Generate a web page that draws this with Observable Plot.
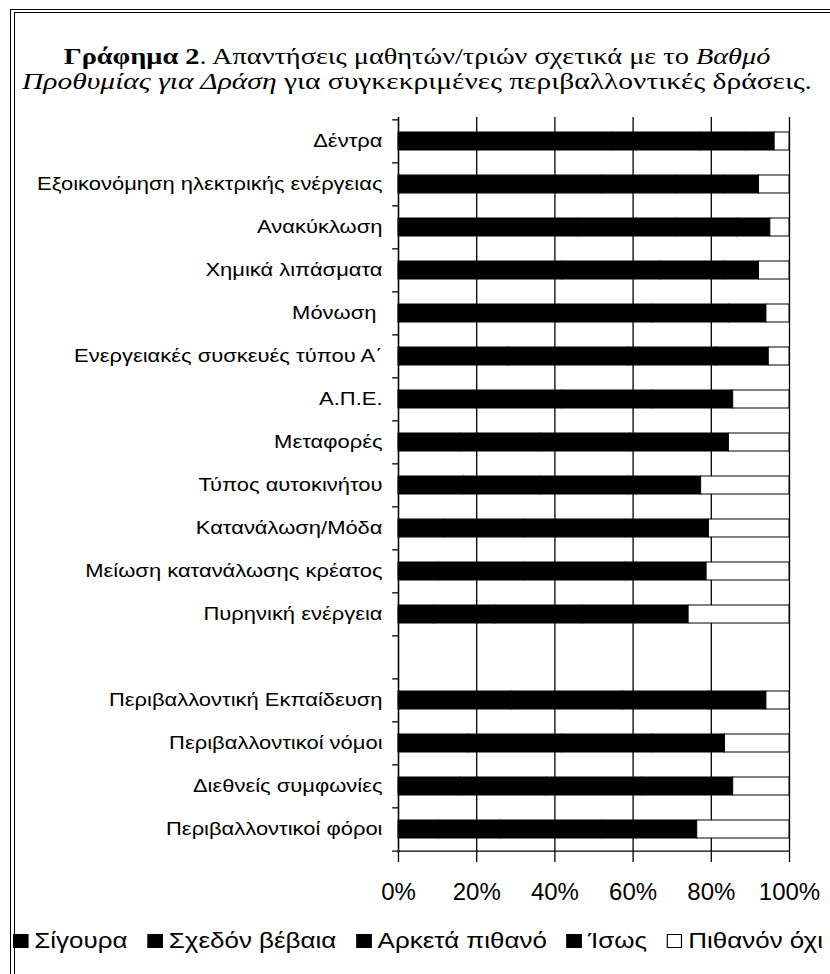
<!DOCTYPE html>
<html><head><meta charset="utf-8">
<script src="https://cdn.jsdelivr.net/npm/d3@7"></script>
<script src="https://cdn.jsdelivr.net/npm/@observablehq/plot@0.6"></script>
<style>
html,body{margin:0;padding:0;background:#fff;overflow:hidden;width:830px;height:974px;}
#frame1{position:absolute;left:10px;top:9px;width:1000px;height:1100px;border-left:1.5px solid #000;border-top:1.5px solid #000;}
#frame2{position:absolute;left:14px;top:12px;width:1000px;height:1100px;border-left:1px solid #000;border-top:1px solid #000;}
.tline{position:absolute;left:0;width:834px;text-align:center;font-family:"Liberation Serif","Times New Roman",serif;font-size:24px;line-height:25px;color:#000;white-space:nowrap;transform-origin:417px 0;}
#t1{top:44px;transform:scaleX(1.18);}
#t2{top:69px;transform:scaleX(1.23);}
#chart{position:absolute;left:0;top:100px;}
#legend{position:absolute;left:13px;top:928px;white-space:nowrap;font-family:"Liberation Sans",Arial,sans-serif;font-size:22px;line-height:26px;color:#000;transform:scaleX(1.18);transform-origin:0 0;}
#legend .item{display:inline-block;margin-right:17px;}
#legend .item:last-child{margin-right:0;}
#legend .sw{display:inline-block;width:11px;height:12px;margin-right:5px;border:1px solid #000;vertical-align:0px;}
</style></head>
<body>
<div id="frame1"></div><div id="frame2"></div>
<div class="tline" id="t1"><b>Γράφημα 2</b>. Απαντήσεις μαθητών/τριών σχετικά με το <i>Βαθμό</i></div>
<div class="tline" id="t2"><i>Προθυμίας για Δράση</i> για συγκεκριμένες περιβαλλοντικές δράσεις.</div>
<div id="chart"></div>
<div id="legend"></div>
<script>
const categories = ["Δέντρα","Εξοικονόμηση ηλεκτρικής ενέργειας","Ανακύκλωση","Χημικά λιπάσματα","Μόνωση\u00A0","Ενεργειακές συσκευές τύπου Α΄","Α.Π.Ε.","Μεταφορές","Τύπος αυτοκινήτου","Κατανάλωση/Μόδα","Μείωση κατανάλωσης κρέατος","Πυρηνική ενέργεια"," ","Περιβαλλοντική Εκπαίδευση","Περιβαλλοντικοί νόμοι","Διεθνείς συμφωνίες","Περιβαλλοντικοί φόροι"];
const series = ["Σίγουρα","Σχεδόν βέβαια","Αρκετά πιθανό","Ίσως","Πιθανόν όχι"];
const seriesColors = ["#000","#000","#000","#000","#fff"];
const sigoura = [55, 52.1, 46.1, 41.9, 41.0, 28.2, 20, 16, 16.7, 12.0, 10.3, 9.0, null, 29.1, 18, 15.9, 10.3];
const sxedon  = [22, 19.2, 25.2, 25.1, 23.9, 30.7, 22, 20.3, 19.6, 20.1, 21.8, 15.8, null, 28.1, 24, 22.1, 15.8];
const arketa  = [12, 12.3, 15.3, 16.6, 19.6, 22.6, 23, 23, 22.6, 26.0, 26.0, 22.3, null, 22.2, 22.9, 24.3, 26.3];
const isws    = [7.2, 8.6, 8.5, 8.6, 9.6, 13.2, 20.6, 25.2, 18.5, 21.3, 20.7, 27.1, null, 14.7, 18.6, 23.3, 24.0];
const ochi    = [3.8, 7.8, 4.9, 7.8, 5.9, 5.3, 14.4, 15.5, 22.6, 20.6, 21.2, 25.8, null, 5.9, 16.5, 14.4, 23.6];
const xTicks = [0, 20, 40, 60, 80, 100];

const valueArrays = [sigoura, sxedon, arketa, isws, ochi];
const table = [];
categories.forEach((c, i) => {
  series.forEach((s, j) => {
    const v = valueArrays[j][i];
    if (v != null) table.push({cat: c, series: s, value: v});
  });
});
const lastCat = categories[categories.length - 1];

const H = 805, mT = 17, mB = 52;
const step = (H - mT - mB) / categories.length;

const chart = Plot.plot({
  width: 830, height: H,
  marginLeft: 398, marginRight: 41, marginTop: mT, marginBottom: mB,
  style: {fontFamily: "'Liberation Sans', Arial, sans-serif", color: "#000", background: "transparent", overflow: "visible"},
  x: {domain: [0, 100], label: null},
  y: {domain: categories, paddingInner: 0.58, paddingOuter: 0.29, label: null},
  color: {domain: series, range: seriesColors},
  marks: [
    Plot.gridX(xTicks, {stroke: "#000", strokeOpacity: 1, strokeWidth: 1.3}),
    Plot.barX(table, Plot.stackX({x: "value", y: "cat", fill: "series", order: series, stroke: "#000", strokeWidth: 1})),
    Plot.ruleX([0], {stroke: "#000", strokeWidth: 1.3}),
    Plot.ruleY(categories, {y: d => d, x1: -1.5, x2: 0, dy: -step / 2, stroke: "#000", strokeWidth: 1.3}),
    Plot.ruleY([lastCat], {y: d => d, x1: -1.5, x2: 100, dy: step / 2, stroke: "#000", strokeWidth: 1.3}),
    Plot.axisX(xTicks, {tickSize: 9, tickPadding: 20, fontSize: 24, tickFormat: d => d + "%", stroke: "#000", strokeWidth: 1.3}),
    Plot.axisY({tickSize: 0, tickPadding: 16, fontSize: 18.6})
  ]
});
document.getElementById("chart").appendChild(chart);

// horizontal stretch of the category labels, as in the reference rendering
chart.querySelectorAll('g[aria-label="y-axis tick label"] text').forEach(t => {
  const w = t.getComputedTextLength();
  if (w > 0) {
    t.setAttribute("textLength", (w * 1.18).toFixed(1));
    t.setAttribute("lengthAdjust", "spacingAndGlyphs");
  }
});

const legend = document.getElementById("legend");
series.forEach((s, j) => {
  const item = document.createElement("span");
  item.className = "item";
  const sw = document.createElement("span");
  sw.className = "sw";
  sw.style.background = seriesColors[j];
  item.appendChild(sw);
  item.appendChild(document.createTextNode(s));
  legend.appendChild(item);
});
</script>
</body></html>
